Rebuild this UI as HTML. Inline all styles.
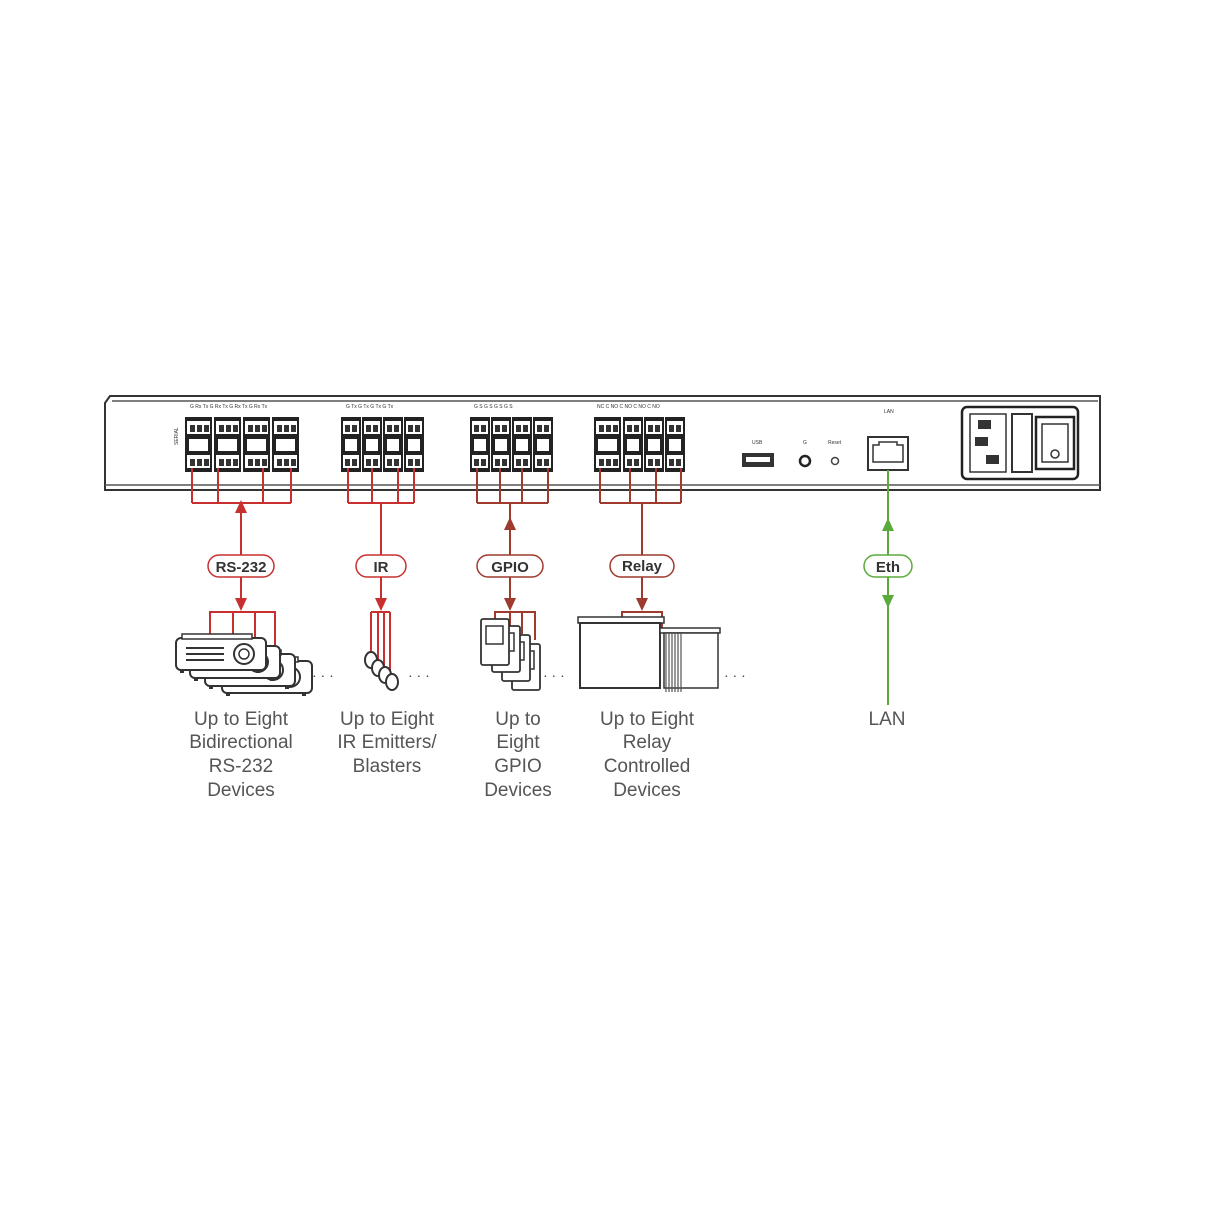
<!DOCTYPE html>
<html><head><meta charset="utf-8"><style>
html,body{margin:0;padding:0;background:#fff;}
svg{display:block;}
text{font-family:"Liberation Sans",sans-serif;}
</style></head><body>
<svg width="1214" height="1214" viewBox="0 0 1214 1214" xmlns="http://www.w3.org/2000/svg">
<defs>
<g id="blk">
 <rect x="0" y="0" width="27" height="55" fill="#222"/>
 <rect x="2" y="4" width="23" height="13" fill="#fff"/>
 <rect x="4" y="22" width="19" height="12" fill="#fff"/>
 <rect x="2" y="38" width="23" height="13" fill="#fff"/>
 <rect x="5" y="8" width="5" height="7" fill="#333"/><rect x="12" y="8" width="5" height="7" fill="#333"/><rect x="19" y="8" width="5" height="7" fill="#333"/>
 <rect x="5" y="42" width="5" height="7" fill="#333"/><rect x="12" y="42" width="5" height="7" fill="#333"/><rect x="19" y="42" width="5" height="7" fill="#333"/>
</g>
<g id="blk2">
 <rect x="0" y="0" width="20" height="55" fill="#222"/>
 <rect x="2" y="4" width="16" height="13" fill="#fff"/>
 <rect x="4" y="22" width="12" height="12" fill="#fff"/>
 <rect x="2" y="38" width="16" height="13" fill="#fff"/>
 <rect x="4" y="8" width="5" height="7" fill="#333"/><rect x="11" y="8" width="5" height="7" fill="#333"/>
 <rect x="4" y="42" width="5" height="7" fill="#333"/><rect x="11" y="42" width="5" height="7" fill="#333"/>
</g>
<g id="proj">
 <rect x="0" y="0" width="90" height="32" rx="5" fill="#fff" stroke="#333" stroke-width="2"/>
 <rect x="6" y="-4" width="70" height="5" fill="#fff" stroke="#333" stroke-width="1.5"/>
 <line x1="10" y1="10" x2="48" y2="10" stroke="#333" stroke-width="2"/>
 <line x1="10" y1="16" x2="48" y2="16" stroke="#333" stroke-width="2"/>
 <line x1="10" y1="22" x2="48" y2="22" stroke="#333" stroke-width="2"/>
 <circle cx="68" cy="16" r="10" fill="#fff" stroke="#333" stroke-width="2"/>
 <circle cx="68" cy="16" r="5" fill="none" stroke="#333" stroke-width="1.5"/>
 <rect x="4" y="32" width="4" height="3" fill="#333"/><rect x="80" y="32" width="4" height="3" fill="#333"/>
</g>
<g id="gp">
 <rect x="0" y="0" width="28" height="46" rx="2" fill="#fff" stroke="#333" stroke-width="1.8"/>
 <rect x="5" y="7" width="17" height="18" fill="#fff" stroke="#333" stroke-width="1.5"/>
</g>
</defs>

<!-- chassis -->
<path d="M110 396 L1100 396 L1100 490 L105 490 L105 403 Z" fill="#fff" stroke="#333" stroke-width="2"/>
<line x1="112" y1="401" x2="1098" y2="401" stroke="#555" stroke-width="1.5"/>
<line x1="105" y1="485" x2="1100" y2="485" stroke="#555" stroke-width="1.5"/>

<!-- serial -->
<g transform="translate(185,417)"><use href="#blk"/><use href="#blk" x="29"/><use href="#blk" x="58"/><use href="#blk" x="87"/></g>
<text x="178" y="445" font-size="5" transform="rotate(-90 178 445)" fill="#333">SERIAL</text>
<text x="190" y="408" font-size="5" fill="#333">G Rx Tx   G Rx Tx   G Rx Tx   G Rx Tx</text>
<!-- IR -->
<g transform="translate(341,417)"><use href="#blk2"/><use href="#blk2" x="21"/><use href="#blk2" x="42"/><use href="#blk2" x="63"/></g>
<text x="346" y="408" font-size="5" fill="#333">G Tx   G Tx   G Tx   G Tx</text>
<!-- GPIO -->
<g transform="translate(470,417)"><use href="#blk2"/><use href="#blk2" x="21"/><use href="#blk2" x="42"/><use href="#blk2" x="63"/></g>
<text x="474" y="408" font-size="5" fill="#333">G S    G S    G S    G S</text>
<!-- Relay -->
<g transform="translate(594,417)"><use href="#blk"/><use href="#blk2" x="29"/><use href="#blk2" x="50"/><use href="#blk2" x="71"/></g>
<text x="597" y="408" font-size="5" fill="#333">NC C NO  C NO  C NO  C NO</text>

<!-- USB, buttons -->
<text x="752" y="444" font-size="5" fill="#333">USB</text>
<rect x="742" y="453" width="32" height="14" fill="#333"/><rect x="746" y="457" width="24" height="5" fill="#fff"/>
<circle cx="805" cy="461" r="5" fill="#fff" stroke="#222" stroke-width="2.5"/>
<circle cx="835" cy="461" r="3.5" fill="#fff" stroke="#444" stroke-width="1.5"/>
<text x="803" y="444" font-size="5" fill="#333">G</text><text x="828" y="444" font-size="5" fill="#333">Reset</text>
<!-- LAN -->
<text x="884" y="413" font-size="5" fill="#333">LAN</text>
<rect x="868" y="437" width="40" height="33" fill="#fff" stroke="#333" stroke-width="2"/>
<path d="M873 445 h6 v-3 h18 v3 h6 v17 h-30 Z" fill="none" stroke="#333" stroke-width="1.5"/>
<!-- power -->
<rect x="962" y="407" width="116" height="72" rx="5" fill="#fff" stroke="#222" stroke-width="2.5"/>
<rect x="970" y="414" width="36" height="58" fill="#fff" stroke="#333" stroke-width="1.5"/>
<rect x="978" y="420" width="13" height="9" fill="#333"/><rect x="975" y="437" width="13" height="9" fill="#333"/><rect x="986" y="455" width="13" height="9" fill="#333"/>
<rect x="1012" y="414" width="20" height="58" fill="#fff" stroke="#333" stroke-width="2"/>
<rect x="1036" y="417" width="38" height="52" fill="#fff" stroke="#222" stroke-width="2.5"/>
<rect x="1042" y="424" width="26" height="38" fill="#fff" stroke="#333" stroke-width="1.5"/>
<circle cx="1055" cy="454" r="4" fill="none" stroke="#333" stroke-width="1.5"/>

<!-- RS-232 wiring -->
<g stroke="#c8302f" stroke-width="2" fill="none">
 <path d="M192 468 V503 M218 468 V503 M263 468 V503 M291 468 V503 M192 503 H291"/>
 <path d="M241 503 V555 M241 577 V603"/>
 <path d="M210 652 V612 H275 V660 M233 612 V645 M255 612 V650"/>
</g>
<polygon points="241,500 235,513 247,513" fill="#c8302f"/>
<polygon points="241,611 235,598 247,598" fill="#c8302f"/>
<rect x="208" y="555" width="66" height="22" rx="11" fill="#fff" stroke="#c8302f" stroke-width="1.5"/>
<text x="241" y="572" font-size="15" font-weight="bold" text-anchor="middle" fill="#333">RS-232</text>
<!-- projectors -->
<use href="#proj" x="222" y="661"/><use href="#proj" x="205" y="654"/><use href="#proj" x="190" y="646"/><use href="#proj" x="176" y="638"/>
<text x="312" y="680" font-size="14" fill="#444">· · ·</text>

<!-- IR wiring -->
<g stroke="#c8302f" stroke-width="2" fill="none">
 <path d="M348 468 V503 M372 468 V503 M398 468 V503 M414 468 V503 M348 503 H414"/>
 <path d="M381 503 V555 M381 577 V603"/>
 <path d="M371 612 H390 M371 612 V660 M378 612 V668 M384 612 V676 M390 612 V682"/>
</g>
<polygon points="381,611 375,598 387,598" fill="#c8302f"/>
<rect x="356" y="555" width="50" height="22" rx="11" fill="#fff" stroke="#c8302f" stroke-width="1.5"/>
<text x="381" y="572" font-size="15" font-weight="bold" text-anchor="middle" fill="#333">IR</text>
<g fill="#fff" stroke="#333" stroke-width="2">
 <ellipse cx="371" cy="660" rx="6" ry="8"/><ellipse cx="378" cy="668" rx="6" ry="8"/><ellipse cx="385" cy="675" rx="6" ry="8"/><ellipse cx="392" cy="682" rx="6" ry="8"/>
</g>
<text x="408" y="680" font-size="14" fill="#444">· · ·</text>

<!-- GPIO wiring -->
<g stroke="#9e3a2e" stroke-width="2" fill="none">
 <path d="M477 468 V503 M500 468 V503 M522 468 V503 M548 468 V503 M477 503 H548"/>
 <path d="M510 503 V555 M510 577 V603"/>
 <path d="M495 620 V612 H535 V640 M510 612 V628 M522 612 V634"/>
</g>
<polygon points="510,517 504,530 516,530" fill="#9e3a2e"/>
<polygon points="510,611 504,598 516,598" fill="#9e3a2e"/>
<rect x="477" y="555" width="66" height="22" rx="11" fill="#fff" stroke="#9e3a2e" stroke-width="1.5"/>
<text x="510" y="572" font-size="15" font-weight="bold" text-anchor="middle" fill="#333">GPIO</text>
<g><use href="#gp" x="512" y="644"/><use href="#gp" x="502" y="635"/><use href="#gp" x="492" y="626"/><use href="#gp" x="481" y="619"/></g>
<text x="543" y="680" font-size="14" fill="#444">· · ·</text>

<!-- Relay wiring -->
<g stroke="#9e3a2e" stroke-width="2" fill="none">
 <path d="M600 468 V503 M630 468 V503 M656 468 V503 M681 468 V503 M600 503 H681"/>
 <path d="M642 503 V555 M642 577 V603"/>
 <path d="M622 620 V612 H662 V630"/>
</g>
<polygon points="642,611 636,598 648,598" fill="#9e3a2e"/>
<rect x="610" y="555" width="64" height="22" rx="11" fill="#fff" stroke="#9e3a2e" stroke-width="1.5"/>
<text x="642" y="571" font-size="15" font-weight="bold" text-anchor="middle" fill="#333">Relay</text>
<!-- relay device -->
<rect x="578" y="617" width="86" height="6" fill="#fff" stroke="#333" stroke-width="1.5"/>
<rect x="580" y="623" width="80" height="65" fill="#fff" stroke="#333" stroke-width="2"/>
<rect x="660" y="628" width="60" height="5" fill="#fff" stroke="#333" stroke-width="1.5"/>
<rect x="664" y="633" width="54" height="55" fill="#fff" stroke="#333" stroke-width="1.5"/>
<g stroke="#555" stroke-width="1.2"><path d="M666 633 V692 M669 633 V692 M672 633 V692 M675 633 V692 M678 633 V692 M681 633 V692"/></g>
<text x="724" y="680" font-size="14" fill="#444">· · ·</text>

<!-- Eth -->
<g stroke="#5aaa3c" stroke-width="2" fill="none"><path d="M888 470 V555 M888 577 V705"/></g>
<polygon points="888,518 882,531 894,531" fill="#5aaa3c"/>
<polygon points="888,608 882,595 894,595" fill="#5aaa3c"/>
<rect x="864" y="555" width="48" height="22" rx="11" fill="#fff" stroke="#5aaa3c" stroke-width="1.5"/>
<text x="888" y="572" font-size="15" font-weight="bold" text-anchor="middle" fill="#333">Eth</text>

<!-- labels -->
<g font-size="19" fill="#555" text-anchor="middle">
 <text x="241" y="725">Up to Eight</text><text x="241" y="748">Bidirectional</text><text x="241" y="772">RS-232</text><text x="241" y="796">Devices</text>
 <text x="387" y="725">Up to Eight</text><text x="387" y="748">IR Emitters/</text><text x="387" y="772">Blasters</text>
 <text x="518" y="725">Up to</text><text x="518" y="748">Eight</text><text x="518" y="772">GPIO</text><text x="518" y="796">Devices</text>
 <text x="647" y="725">Up to Eight</text><text x="647" y="748">Relay</text><text x="647" y="772">Controlled</text><text x="647" y="796">Devices</text>
 <text x="887" y="725">LAN</text>
</g>
</svg>
</body></html>
